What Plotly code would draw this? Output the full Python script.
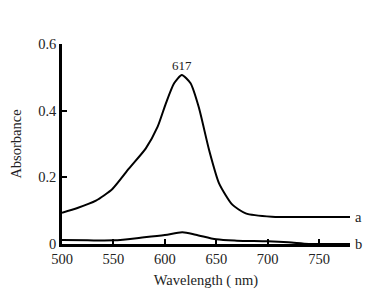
import plotly.graph_objects as go

wl_a = [500, 515, 533, 549, 565, 581.5, 593, 601, 609, 616.5, 625, 633, 643, 652.7, 665.6, 678.6, 704, 740, 780]
abs_a = [0.094, 0.108, 0.130, 0.165, 0.226, 0.287, 0.352, 0.422, 0.482, 0.507, 0.482, 0.410, 0.282, 0.182, 0.118, 0.092, 0.082, 0.081, 0.081]

wl_b = [500, 525, 550, 580, 600, 617, 630, 650, 670, 700, 720, 740, 760, 780]
abs_b = [0.012, 0.011, 0.011, 0.02, 0.027, 0.035, 0.028, 0.014, 0.01, 0.008, 0.005, 0.0, 0.0, 0.0]

x_ticks = [500, 550, 600, 650, 700, 750]
y_ticks = [0, 0.2, 0.4, 0.6]
y_labels = ["0", "0.2", "0.4", "0.6"]

font = dict(family="Liberation Serif", size=14.5, color="#222")

fig = go.Figure()
fig.add_trace(go.Scatter(x=wl_a, y=abs_a, mode="lines",
                         line=dict(color="black", width=2, shape="spline", smoothing=0.6),
                         showlegend=False, cliponaxis=False))
fig.add_trace(go.Scatter(x=wl_b, y=abs_b, mode="lines",
                         line=dict(color="black", width=2, shape="spline", smoothing=0.8),
                         showlegend=False, cliponaxis=False))

fig.add_annotation(x=617, y=0.507, text="617", showarrow=False, yshift=10,
                   font=dict(family="Liberation Serif", size=13, color="#222"))
fig.add_annotation(x=780, y=abs_a[-1], text="a", showarrow=False, xanchor="left", xshift=3,
                   font=font)
fig.add_annotation(x=780, y=abs_b[-1], text="b", showarrow=False, xanchor="left", xshift=3,
                   font=font)

fig.update_layout(
    width=381, height=301,
    margin=dict(l=54, r=39, t=36, b=65),
    paper_bgcolor="white", plot_bgcolor="white",
    font=font,
    xaxis=dict(range=[500, 780], tickvals=x_ticks, ticks="inside", ticklen=5, tickwidth=1.5,
               tickcolor="black", showline=True, linecolor="black", linewidth=2.5,
               showgrid=False, zeroline=False, automargin=False,
               title=dict(text="Wavelength ( nm)", font=font, standoff=9),
               tickfont=font),
    yaxis=dict(range=[0, 0.6], tickvals=y_ticks, ticktext=y_labels, ticks="inside", ticklen=5,
               tickwidth=1.5, tickcolor="black", showline=True, linecolor="black", linewidth=2.5,
               showgrid=False, zeroline=False, automargin=False,
               title=dict(text="Absorbance", font=font, standoff=16),
               tickfont=font),
)

fig.write_html("out.html")
